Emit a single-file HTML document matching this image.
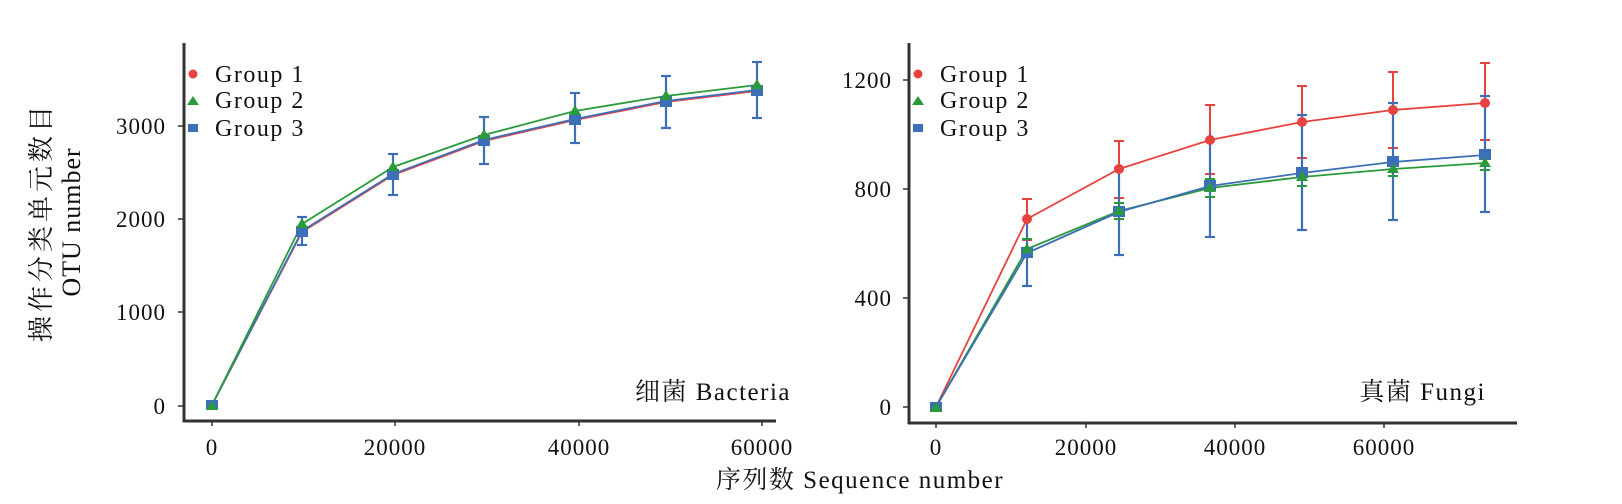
<!DOCTYPE html>
<html><head><meta charset="utf-8"><style>
html,body{margin:0;padding:0;background:#fff;}
svg{display:block;}
text{font-family:"Liberation Serif","Noto Serif CJK SC",serif;fill:#111;}
</style></head><body>
<svg width="1622" height="504" viewBox="0 0 1622 504" xmlns="http://www.w3.org/2000/svg">
<g stroke="#333" stroke-width="3" fill="none">
<line x1="184" y1="43" x2="184" y2="422"/>
<line x1="183" y1="421" x2="776" y2="421"/>
<line x1="909" y1="43" x2="909" y2="424"/>
<line x1="908" y1="423" x2="1517" y2="423"/>
</g>
<g stroke="#333" stroke-width="1.5">
<line x1="178" y1="126" x2="184" y2="126"/><line x1="178" y1="219" x2="184" y2="219"/>
<line x1="178" y1="312" x2="184" y2="312"/><line x1="178" y1="406" x2="184" y2="406"/>
<line x1="212" y1="421" x2="212" y2="426"/><line x1="395" y1="421" x2="395" y2="426"/>
<line x1="579" y1="421" x2="579" y2="426"/><line x1="762" y1="421" x2="762" y2="426"/>
<line x1="903" y1="80" x2="909" y2="80"/><line x1="903" y1="189" x2="909" y2="189"/>
<line x1="903" y1="298" x2="909" y2="298"/><line x1="903" y1="407" x2="909" y2="407"/>
<line x1="936" y1="423" x2="936" y2="428"/><line x1="1086" y1="423" x2="1086" y2="428"/>
<line x1="1235" y1="423" x2="1235" y2="428"/><line x1="1384" y1="423" x2="1384" y2="428"/>
</g>
<g font-size="23" letter-spacing="1" text-anchor="end">
<text x="166" y="134">3000</text><text x="166" y="227">2000</text>
<text x="166" y="320">1000</text><text x="166" y="414">0</text>
<text x="892" y="88">1200</text><text x="892" y="197">800</text>
<text x="892" y="306">400</text><text x="892" y="415">0</text>
</g>
<g font-size="23" letter-spacing="1" text-anchor="middle">
<text x="212" y="455">0</text><text x="395" y="455">20000</text>
<text x="579" y="455">40000</text><text x="762" y="455">60000</text>
<text x="936" y="455">0</text><text x="1086" y="455">20000</text>
<text x="1235" y="455">40000</text><text x="1384" y="455">60000</text>
</g>
<text x="860" y="488" font-size="25" letter-spacing="1.5" text-anchor="middle">序列数 Sequence number</text>
<g transform="translate(50,222) rotate(-90)"><text x="0" y="0" font-size="26" letter-spacing="4" text-anchor="middle">操作分类单元数目</text></g>
<g transform="translate(80,222) rotate(-90)"><text x="0" y="0" font-size="26" letter-spacing="1" text-anchor="middle">OTU number</text></g>
<text x="791" y="400" font-size="25" letter-spacing="1.5" text-anchor="end">细菌 Bacteria</text>
<text x="1486" y="400" font-size="25" letter-spacing="1.5" text-anchor="end">真菌 Fungi</text>

<g font-size="24" letter-spacing="1.5">
<circle cx="193" cy="74" r="4.5" fill="#e8423f"/><text x="215" y="82">Group 1</text>
<polygon points="187,105 193,96 199,105" fill="#2a9a3a"/><text x="215" y="108">Group 2</text>
<rect x="188" y="124" width="10" height="8" fill="#3d6fb8"/><text x="215" y="136">Group 3</text>
<circle cx="918" cy="74" r="4.5" fill="#e8423f"/><text x="940" y="82">Group 1</text>
<polygon points="912,105 918,96 924,105" fill="#2a9a3a"/><text x="940" y="108">Group 2</text>
<rect x="913" y="124" width="10" height="8" fill="#3d6fb8"/><text x="940" y="136">Group 3</text>
</g>

<g stroke-width="1.8" fill="none">
<polyline stroke="#e8423f" points="212,405 302,232 393,175 484,141 575,120 666,102 757,91"/>
<polyline stroke="#3d6fb8" points="212,405 302,231 393,174 484,140 575,119 666,101 757,90"/>
<polyline stroke="#2a9a3a" points="212,405 302,224 393,167 484,135 575,111 666,96 757,85"/>
</g>
<g stroke="#3d6fb8" stroke-width="2.2">
<line x1="302" y1="217" x2="302" y2="245"/><line x1="297" y1="217" x2="307" y2="217"/><line x1="297" y1="245" x2="307" y2="245"/>
<line x1="393" y1="154" x2="393" y2="195"/><line x1="388" y1="154" x2="398" y2="154"/><line x1="388" y1="195" x2="398" y2="195"/>
<line x1="484" y1="117" x2="484" y2="164"/><line x1="479" y1="117" x2="489" y2="117"/><line x1="479" y1="164" x2="489" y2="164"/>
<line x1="575" y1="93" x2="575" y2="143"/><line x1="570" y1="93" x2="580" y2="93"/><line x1="570" y1="143" x2="580" y2="143"/>
<line x1="666" y1="76" x2="666" y2="128"/><line x1="661" y1="76" x2="671" y2="76"/><line x1="661" y1="128" x2="671" y2="128"/>
<line x1="757" y1="62" x2="757" y2="118"/><line x1="752" y1="62" x2="762" y2="62"/><line x1="752" y1="118" x2="762" y2="118"/>
</g>
<g fill="#3d6fb8">
<rect x="206" y="400" width="12" height="10"/><rect x="296" y="226" width="12" height="11"/><rect x="387" y="169" width="12" height="11"/>
<rect x="478" y="135" width="12" height="11"/><rect x="569" y="114" width="12" height="11"/><rect x="660" y="96" width="12" height="11"/><rect x="751" y="85" width="12" height="11"/>
</g>
<g fill="#2a9a3a">
<polygon points="206,410 212,401 218,410"/><polygon points="296,228 302,218 308,228"/><polygon points="387,171 393,161 399,171"/>
<polygon points="478,139 484,129 490,139"/><polygon points="569,115 575,105 581,115"/><polygon points="660,100 666,90 672,100"/><polygon points="751,89 757,79 763,89"/>
</g>

<g stroke-width="1.8" fill="none">
<polyline stroke="#e8423f" points="936,407 1027,219 1119,169 1210,140 1302,122 1393,110 1485,103"/>
<polyline stroke="#2a9a3a" points="936,407 1027,249 1119,211 1210,188 1302,177 1393,169 1485,163"/>
<polyline stroke="#3d6fb8" points="936,407 1027,253 1119,212 1210,186 1302,173 1393,162 1485,155"/>
</g>
<g stroke="#e8423f" stroke-width="2">
<line x1="1027" y1="199" x2="1027" y2="240"/><line x1="1022" y1="199" x2="1032" y2="199"/><line x1="1022" y1="240" x2="1032" y2="240"/>
<line x1="1119" y1="141" x2="1119" y2="198"/><line x1="1114" y1="141" x2="1124" y2="141"/><line x1="1114" y1="198" x2="1124" y2="198"/>
<line x1="1210" y1="105" x2="1210" y2="174"/><line x1="1205" y1="105" x2="1215" y2="105"/><line x1="1205" y1="174" x2="1215" y2="174"/>
<line x1="1302" y1="86" x2="1302" y2="158"/><line x1="1297" y1="86" x2="1307" y2="86"/><line x1="1297" y1="158" x2="1307" y2="158"/>
<line x1="1393" y1="72" x2="1393" y2="148"/><line x1="1388" y1="72" x2="1398" y2="72"/><line x1="1388" y1="148" x2="1398" y2="148"/>
<line x1="1485" y1="63" x2="1485" y2="140"/><line x1="1480" y1="63" x2="1490" y2="63"/><line x1="1480" y1="140" x2="1490" y2="140"/>
</g>
<g stroke="#3d6fb8" stroke-width="2.2">
<line x1="1027" y1="220" x2="1027" y2="286"/><line x1="1022" y1="286" x2="1032" y2="286"/>
<line x1="1119" y1="168" x2="1119" y2="255"/><line x1="1114" y1="168" x2="1124" y2="168"/><line x1="1114" y1="255" x2="1124" y2="255"/>
<line x1="1210" y1="134" x2="1210" y2="237"/><line x1="1205" y1="237" x2="1215" y2="237"/>
<line x1="1302" y1="115" x2="1302" y2="230"/><line x1="1297" y1="115" x2="1307" y2="115"/><line x1="1297" y1="230" x2="1307" y2="230"/>
<line x1="1393" y1="103" x2="1393" y2="220"/><line x1="1388" y1="103" x2="1398" y2="103"/><line x1="1388" y1="220" x2="1398" y2="220"/>
<line x1="1485" y1="96" x2="1485" y2="212"/><line x1="1480" y1="96" x2="1490" y2="96"/><line x1="1480" y1="212" x2="1490" y2="212"/>
</g>
<g stroke="#2a9a3a" stroke-width="2">
<line x1="1022" y1="239" x2="1032" y2="239"/><line x1="1114" y1="203" x2="1124" y2="203"/><line x1="1114" y1="219" x2="1124" y2="219"/>
<line x1="1205" y1="179" x2="1215" y2="179"/><line x1="1205" y1="197" x2="1215" y2="197"/>
<line x1="1297" y1="168" x2="1307" y2="168"/><line x1="1297" y1="186" x2="1307" y2="186"/>
<line x1="1388" y1="161" x2="1398" y2="161"/><line x1="1388" y1="176" x2="1398" y2="176"/>
<line x1="1480" y1="156" x2="1490" y2="156"/><line x1="1480" y1="170" x2="1490" y2="170"/>
</g>
<g fill="#e8423f">
<circle cx="1027" cy="219" r="5"/><circle cx="1119" cy="169" r="5"/><circle cx="1210" cy="140" r="5"/>
<circle cx="1302" cy="122" r="5"/><circle cx="1393" cy="110" r="5"/><circle cx="1485" cy="103" r="5"/>
</g>
<g fill="#3d6fb8">
<rect x="930" y="402" width="12" height="10"/><rect x="1021" y="247" width="12" height="11"/><rect x="1113" y="206" width="12" height="11"/>
<rect x="1204" y="180" width="12" height="11"/><rect x="1296" y="167" width="12" height="11"/><rect x="1387" y="156" width="12" height="11"/><rect x="1479" y="149" width="12" height="11"/>
</g>
<g fill="#2a9a3a">
<polygon points="930,412 936,402 942,412"/><polygon points="1021,253 1027,243 1033,253"/><polygon points="1113,215 1119,205 1125,215"/>
<polygon points="1204,192 1210,182 1216,192"/><polygon points="1296,181 1302,171 1308,181"/><polygon points="1387,173 1393,163 1399,173"/><polygon points="1479,167 1485,157 1491,167"/>
</g>
</svg>
</body></html>
